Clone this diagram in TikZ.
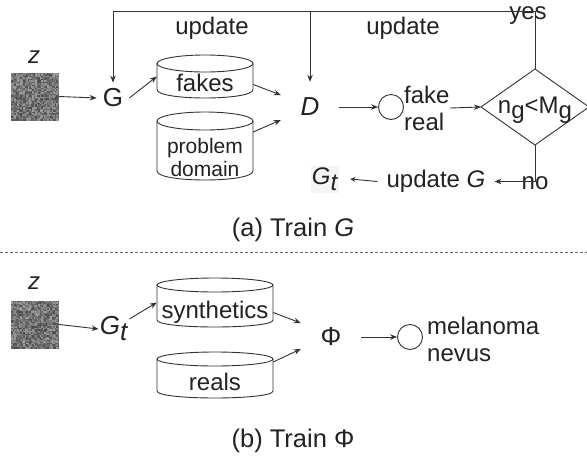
\documentclass[tikz,border=0pt]{standalone}
\usepackage{fontspec}
\setmainfont{Liberation Sans}
\usetikzlibrary{arrows.meta}
\definecolor{txt}{HTML}{222222}
\definecolor{ln}{HTML}{333333}
\definecolor{dashc}{HTML}{666666}
\definecolor{gtbg}{HTML}{F4F4F4}
\newcommand\bigfs{\fontsize{24}{27}\selectfont}
\newcommand\capfs{\fontsize{25.5}{28}\selectfont}
\newcommand\letterfs{\fontsize{26}{28}\selectfont}
\newcommand\smallfs{\fontsize{21}{23}\selectfont}
% random grey noise patch, 48pt square, top-left corner at (#1,#2)
\newcommand\noisepatch[2]{%
  \foreach \i in {0,...,31}{\foreach \j in {0,...,31}{%
    \pgfmathsetmacro\gv{int(38+34*rnd)}%
    \fill[black!\gv] ({#1+1.5*\i},{#2+1.5*\j}) rectangle ++(1.55,1.55);}}}
% database cylinder: name, left, top, right, bottom, vertical radius of the rims
\newcommand\dbcyl[6]{%
  \node[inner sep=0pt, minimum width={(#4)-(#2)}, minimum height={(#5)-(#3)}] (#1)
    at ({((#2)+(#4))/2},{((#3)+(#5))/2}) {};
  \draw[cyl] (#2,{(#3)+(#6)}) -- (#2,{(#5)-(#6)})
    .. controls (#2,{(#5)-(#6)+1.333*(#6)}) and (#4,{(#5)-(#6)+1.333*(#6)}) .. (#4,{(#5)-(#6)})
    -- (#4,{(#3)+(#6)});
  \draw[cyl] ({((#2)+(#4))/2},{(#3)+(#6)}) ellipse [x radius={((#4)-(#2))/2}, y radius=#6];
}
\begin{document}
\begin{tikzpicture}[x=1pt,y=-1pt,
  lbl/.style={font=\bigfs, text=txt, inner sep=0pt},
  arr/.style={draw=ln, line width=0.9pt, -{Stealth[length=7pt,width=5.5pt]}},
  wire/.style={draw=ln, line width=0.9pt},
  cyl/.style={draw=ln, line width=0.9pt},
  outc/.style={draw=ln, line width=0.9pt, circle, minimum size=25pt, inner sep=0pt}]
\useasboundingbox[fill=white] (0,0) rectangle (587,459);
\pgfmathsetseed{4242}

% ---------------- (a) Train G ----------------
\node[lbl] (zA) at (34,57) {\textit{z}};
\node[inner sep=0pt, minimum size=48pt] (sqA) at (35,96.5) {};
\noisepatch{11}{72.5}
\node[lbl, font=\letterfs, inner sep=6pt] (G) at (113,98) {G};

\dbcyl{fakes}{157}{55}{253}{98}{8.5}
\node[lbl] (fakesT) at (205,83) {fakes};
\dbcyl{prob}{157}{112}{253}{180}{9}
\node[lbl, font=\smallfs, align=center] (probT) at (205,157) {problem\\domain};

\node[lbl, font=\letterfs, minimum width=58pt, minimum height=50pt] (D) at (310,107) {\textit{D}};
\node[outc] (c1) at (391,107) {};
\node[lbl, align=left, anchor=west] (fr) at (404,108) {fake\\real};

\coordinate (dL) at (481,107);
\coordinate (dT) at (535,69);
\coordinate (dR) at (589,107);
\coordinate (dB) at (535,145);
\draw[wire] (dL) -- (dT) -- (dR) -- (dB) -- cycle;
\node[lbl, anchor=base] (cond) at (535,113) {n\raisebox{-5pt}{g}<M\raisebox{-5pt}{g}};

\coordinate (topy) at (0,11);
\node[lbl] (upd1) at (212,28) {update};
\node[lbl] (upd2) at (403,28) {update};
\node[lbl] (yes) at (528,16) {yes};

\node[lbl, inner xsep=9pt] (upG) at (436,181.5) {update \textit{G}};
\node[lbl, fill=gtbg, inner xsep=1pt, inner ysep=2pt] (Gt) at (325,179) {\textit{G}\raisebox{-6pt}{\textit{t}}};
\node[lbl] (no) at (535,183) {no};

\draw[arr] (sqA.east) -- (G.west);
\draw[arr] (G.east) -- (fakes.west);
\draw[arr] ([yshift=-8pt]fakes.east) -- ([yshift=12pt]D.west);
\draw[arr] ([yshift=14pt]prob.east) -- ([yshift=-13pt]D.west);
\draw[arr] (D.east) -- (c1.west);
\draw[arr] (fr.east) -- (dL);
\draw[arr] (dT) -- (dT |- topy) -- (G |- topy) -- (G.north);
\draw[arr] (D |- topy) -- (D.north);
\draw[arr] (dB) |- (upG.east);
\draw[draw=ln, line width=0.9pt, -{Stealth[length=5pt,width=5pt]}] (upG.west) -- ([xshift=11pt]Gt.east);

\node[lbl, font=\capfs] (capA) at (293,230) {(a) Train \textit{G}};
\draw[dashc, line width=0.6pt, dash pattern=on 3pt off 2pt] (0,252) -- (587,252);

% ---------------- (b) Train Phi ----------------
\node[lbl] (zB) at (34,283) {\textit{z}};
\node[inner sep=0pt, minimum size=48pt] (sqB) at (35,324.5) {};
\noisepatch{11}{300.5}
\node[lbl, font=\letterfs, inner sep=1pt] (Gt2) at (114,329) {\textit{G}\raisebox{-6pt}{\textit{t}}};

\dbcyl{syn}{157}{278}{273}{327}{7}
\node[lbl] (synT) at (215,312) {synthetics};
\dbcyl{reals}{157}{352}{273}{398}{7}
\node[lbl] (realsT) at (215,382) {reals};

\node[lbl, font=\letterfs, minimum width=60pt, minimum height=40pt] (phi) at (331,337) {Φ};
\node[outc] (c2) at (410,337) {};
\node[lbl, align=left, anchor=west] (mn) at (427,339) {melanoma\\nevus};

\draw[arr] (sqB.east) -- (Gt2.west);
\draw[arr] ([yshift=10pt]Gt2.east) -- (syn.west);
\draw[arr] ([yshift=-10pt]syn.east) -- ([yshift=14pt]phi.west);
\draw[arr] ([yshift=13pt]reals.east) -- ([yshift=-12pt]phi.west);
\draw[arr] (phi.east) -- (c2.west);

\node[lbl, font=\capfs] (capB) at (293,441) {(b) Train Φ};
\end{tikzpicture}
\end{document}
